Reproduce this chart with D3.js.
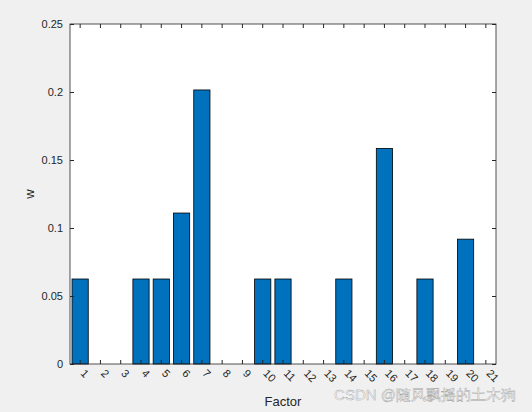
<!DOCTYPE html><html><head><script src="https://cdn.jsdelivr.net/npm/d3@7"></script>
<style>body{margin:0;background:#f0f0f0}text{font-family:Arial,"Liberation Sans",sans-serif}</style></head><body>
<svg id="c" width="532" height="412"></svg>
<script>
const categories=d3.range(1,22).map(String);
const values=[0.0625,0,0,0.0625,0.0625,0.111,0.2015,0,0,0.0625,0.0625,0,0,0.0625,0,0.1585,0,0.0625,0,0.0918,0];
const yTicks=[0,0.05,0.1,0.15,0.2,0.25];
const L=70,R=496,T=24,B=364;
const svg=d3.select("#c");
svg.append("rect").attr("x",L).attr("y",T).attr("width",R-L).attr("height",B-T).attr("fill","#fff");
const x=d3.scaleBand().domain(categories).range([L,R]).paddingInner(0.2).paddingOuter(0.1);
const y=d3.scaleLinear().domain([0,0.25]).range([B,T]);
svg.selectAll(".bar").data(values).join("rect").attr("x",(d,i)=>x(categories[i])).attr("width",x.bandwidth())
 .attr("y",d=>y(d)).attr("height",d=>B-y(d)).attr("fill","#0072bd").attr("stroke","#000").attr("stroke-width",0.8);
const xa=svg.append("g").attr("transform",`translate(0,${B})`).call(d3.axisBottom(x).tickSizeInner(-4).tickSizeOuter(0));
xa.selectAll("text").attr("transform","translate(2,8) rotate(45)").attr("text-anchor","start").attr("dy","0").attr("font-size",11).attr("fill","#262626");
const ya=svg.append("g").attr("transform",`translate(${L},0)`).call(d3.axisLeft(y).tickValues(yTicks).tickFormat(d=>d===0?"0":String(d)).tickSizeInner(-4).tickSizeOuter(0));
ya.selectAll("text").attr("x",-7).attr("font-size",11).attr("fill","#262626");
svg.selectAll(".domain").remove();
svg.selectAll(".tick line").attr("stroke","#262626");
const yr=svg.append("g").attr("transform",`translate(${R},0)`).call(d3.axisRight(y).tickValues(yTicks).tickSizeInner(-4).tickSizeOuter(0).tickFormat(""));
yr.select(".domain").remove();
const xt=svg.append("g").attr("transform",`translate(0,${T})`).call(d3.axisTop(x).tickSizeInner(-4).tickSizeOuter(0).tickFormat(""));
xt.select(".domain").remove();
svg.selectAll(".tick line").attr("stroke","#262626");
svg.append("rect").attr("x",L).attr("y",T).attr("width",R-L).attr("height",B-T).attr("fill","none").attr("stroke","#262626").attr("stroke-width",0.8);
svg.append("text").attr("x",(L+R)/2).attr("y",406).attr("text-anchor","middle").attr("font-size",13).attr("fill","#262626").text("Factor");
svg.append("text").attr("transform",`translate(34,${(T+B)/2}) rotate(-90)`).attr("text-anchor","middle").attr("font-size",13).attr("fill","#262626").text("w");
svg.append("text").attr("x",516).attr("y",400).attr("text-anchor","end").attr("font-size",15).attr("fill","#fff").attr("fill-opacity",0.75).attr("stroke","#999").attr("stroke-width",0.4).attr("font-family","Noto Sans CJK SC").text("CSDN @随风飘摇的土木狗");
</script></body></html>
